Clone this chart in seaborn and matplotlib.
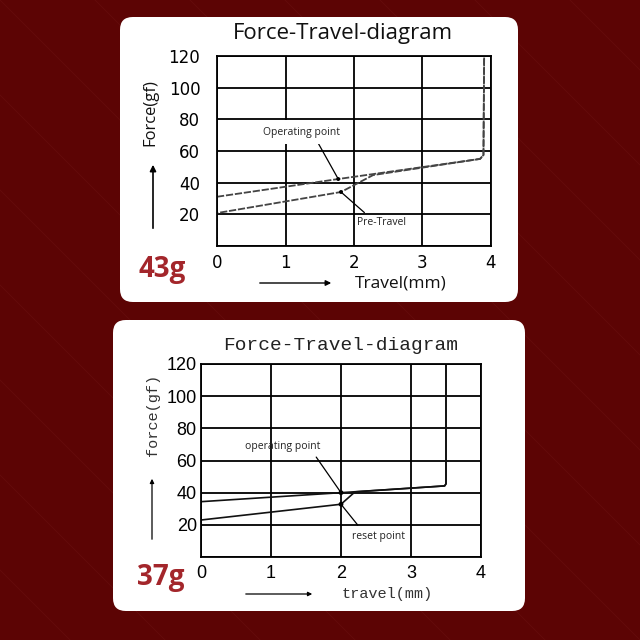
import matplotlib
matplotlib.use("Agg")
import matplotlib.pyplot as plt
import seaborn as sns
import pandas as pd
from matplotlib.patches import FancyBboxPatch, FancyArrowPatch
from matplotlib.lines import Line2D

sns.set_theme(style="white")

# ---------------- data ----------------
x_ticks = [0, 1, 2, 3, 4]
y_ticks = [0, 20, 40, 60, 80, 100, 120]

# 43g chart
press_travel_43 = [0.0, 0.0, 1.81, 2.28, 3.84, 3.89, 3.90]
press_force_43 = [0.0, 20.8, 34.1, 44.8, 55.0, 57.5, 120.0]
release_travel_43 = [0.0, 1.77, 3.84, 3.89, 3.90]
release_force_43 = [31.1, 42.3, 55.0, 57.5, 120.0]
mark_travel_43 = [1.77, 1.81]
mark_force_43 = [42.3, 34.1]

# 37g chart
press_travel_37 = [0.0, 2.0, 2.2, 3.48, 3.50, 3.50]
press_force_37 = [23.0, 32.8, 40.5, 44.2, 45.5, 120.0]
release_travel_37 = [0.0, 2.0, 3.48, 3.50, 3.50]
release_force_37 = [34.4, 40.0, 44.2, 45.5, 120.0]
mark_travel_37 = [2.0, 2.0]
mark_force_37 = [40.0, 32.8]

W = 640.0
def fx(p):
    return p / W
def fy(p):
    return 1 - p / W

fig = plt.figure(figsize=(6.4, 6.4), dpi=100)
fig.patch.set_facecolor("#5c0404")

# faint diagonal texture lines
for k in range(-8, 10):
    off = k * 95
    fig.add_artist(Line2D([fx(off), fx(off + 700)], [fy(0), fy(700)],
                          transform=fig.transFigure, color="#7a1c1c",
                          lw=0.6, alpha=0.3, zorder=-9))

# white panels
def panel(x0, y0, x1, y1):
    p = FancyBboxPatch((fx(x0), fy(y1)), fx(x1 - x0), (y1 - y0) / W,
                       boxstyle="round,pad=0,rounding_size=0.02",
                       transform=fig.transFigure, facecolor="white",
                       edgecolor="none", zorder=-5)
    fig.patches.append(p)

panel(120, 17, 518, 302)
panel(113, 320, 525, 611)


def setup_axes(ax, tick_font, tick_size, ypad):
    ax.set_xlim(0, 4)
    ax.set_ylim(0, 120)
    ax.set_xticks(x_ticks)
    ax.set_yticks(y_ticks)
    ax.set_yticklabels(["" if v == 0 else str(v) for v in y_ticks])
    ax.grid(True, color="black", lw=1.3)
    ax.set_axisbelow(True)
    for s in ax.spines.values():
        s.set_visible(True)
        s.set_color("black")
        s.set_linewidth(1.3)
    ax.tick_params(axis="both", length=0, labelsize=tick_size, colors="black")
    ax.tick_params(axis="y", pad=ypad)
    ax.tick_params(axis="x", pad=6)
    for lab in ax.get_xticklabels() + ax.get_yticklabels():
        lab.set_family(tick_font)
    ax.set_xlabel("")
    ax.set_ylabel("")
    ax.set_facecolor("white")


# ---------------- top chart (43g) ----------------
ax1 = fig.add_axes([fx(217), fy(246), fx(274), 190 / W])
df_p43 = pd.DataFrame({"travel": press_travel_43, "force": press_force_43})
df_r43 = pd.DataFrame({"travel": release_travel_43, "force": release_force_43})
sns.lineplot(data=df_p43, x="travel", y="force", sort=False, estimator=None,
             ax=ax1, color="#444444", lw=1.3, linestyle=(0, (4, 1)))
sns.lineplot(data=df_r43, x="travel", y="force", sort=False, estimator=None,
             ax=ax1, color="#444444", lw=1.3, linestyle=(0, (4, 1)))
sns.scatterplot(x=mark_travel_43, y=mark_force_43, ax=ax1, color="black",
                s=8, edgecolor="none", zorder=5)
setup_axes(ax1, "DejaVu Sans", 12, 12)

ax1.annotate("Operating point", xy=(mark_travel_43[0], mark_force_43[0]),
             xytext=(1.24, 72.0), ha="center", va="center", fontsize=7.5,
             family="Open Sans", color="#222222", zorder=6,
             bbox=dict(boxstyle="square,pad=0.6", fc="white", ec="none"),
             arrowprops=dict(arrowstyle="-", color="black", lw=0.9,
                             relpos=(0.65, 0.25), shrinkA=0, shrinkB=0))
ax1.annotate("Pre-Travel", xy=(mark_travel_43[1], mark_force_43[1]),
             xytext=(2.40, 15.0), ha="center", va="center", fontsize=7.5,
             family="Open Sans", color="#222222", zorder=6,
             arrowprops=dict(arrowstyle="-", color="black", lw=0.9,
                             relpos=(0.25, 1.0), shrinkA=1, shrinkB=0))

fig.text(fx(343), fy(33), "Force-Travel-diagram", ha="center", va="center",
         fontsize=16, family="Open Sans", color="#111111")
fig.text(fx(150), fy(113), "Force(gf)", ha="center", va="center",
         rotation=90, fontsize=12, family="Open Sans", color="#111111")
fig.text(fx(401), fy(283), "Travel(mm)", ha="center", va="center",
         fontsize=12.5, family="Open Sans", color="#111111")
fig.text(fx(162), fy(270), "43g", ha="center", va="center", fontsize=20,
         fontweight="bold", family="Open Sans", color="#a3262b")
fig.add_artist(FancyArrowPatch((fx(153), fy(231)), (fx(153), fy(162)),
                               transform=fig.transFigure, arrowstyle="-|>",
                               mutation_scale=9, lw=1.2, color="black"))
fig.add_artist(FancyArrowPatch((fx(257), fy(283)), (fx(334), fy(283)),
                               transform=fig.transFigure, arrowstyle="-|>",
                               mutation_scale=8, lw=1.0, color="black"))

# ---------------- bottom chart (37g) ----------------
ax2 = fig.add_axes([fx(201), fy(557), fx(280), 193 / W])
df_p37 = pd.DataFrame({"travel": press_travel_37, "force": press_force_37})
df_r37 = pd.DataFrame({"travel": release_travel_37, "force": release_force_37})
sns.lineplot(data=df_p37, x="travel", y="force", sort=False, estimator=None,
             ax=ax2, color="#111111", lw=1.2)
sns.lineplot(data=df_r37, x="travel", y="force", sort=False, estimator=None,
             ax=ax2, color="#111111", lw=1.2)
sns.scatterplot(x=mark_travel_37, y=mark_force_37, ax=ax2, color="black",
                s=12, edgecolor="none", zorder=5)
setup_axes(ax2, "Liberation Sans", 13, 3)

ax2.annotate("operating point", xy=(mark_travel_37[0], mark_force_37[0]),
             xytext=(1.16, 69.0), ha="center", va="center", fontsize=7.5,
             family="Open Sans", color="#222222", zorder=6,
             arrowprops=dict(arrowstyle="-", color="black", lw=0.9,
                             relpos=(0.9, 0.0), shrinkA=2, shrinkB=0))
ax2.annotate("reset point", xy=(mark_travel_37[1], mark_force_37[1]),
             xytext=(2.53, 13.0), ha="center", va="center", fontsize=7.5,
             family="Open Sans", color="#222222", zorder=6,
             arrowprops=dict(arrowstyle="-", color="black", lw=0.9,
                             relpos=(0.2, 1.0), shrinkA=2, shrinkB=0))

fig.text(fx(341), fy(345), "Force-Travel-diagram", ha="center", va="center",
         fontsize=14, family="Liberation Mono", color="#222222")
fig.text(fx(153), fy(415), "force(gf)", ha="center", va="center",
         rotation=90, fontsize=11, family="Liberation Mono", color="#333333")
fig.text(fx(387), fy(594), "travel(mm)", ha="center", va="center",
         fontsize=11, family="Liberation Mono", color="#333333")
fig.text(fx(161), fy(578), "37g", ha="center", va="center", fontsize=20,
         fontweight="bold", family="Open Sans", color="#a3262b")
fig.add_artist(FancyArrowPatch((fx(152), fy(542)), (fx(152), fy(476)),
                               transform=fig.transFigure, arrowstyle="-|>",
                               mutation_scale=6, lw=0.9, color="black"))
fig.add_artist(FancyArrowPatch((fx(243), fy(594)), (fx(315), fy(594)),
                               transform=fig.transFigure, arrowstyle="-|>",
                               mutation_scale=6, lw=0.9, color="black"))

fig.savefig("out.png", dpi=100, facecolor=fig.get_facecolor())
